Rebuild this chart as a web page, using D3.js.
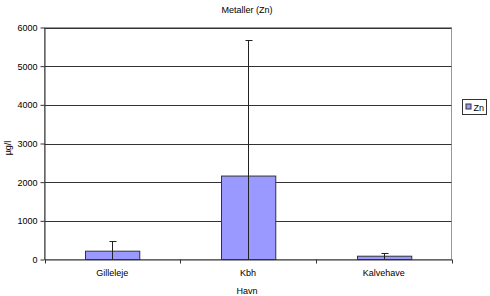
<!DOCTYPE html>
<meta charset="utf-8">
<style>
* { margin: 0; padding: 0; }
body { background: #fff; }
text { font-family: Arial, "Liberation Sans", sans-serif; fill: #000; }
.grid line { stroke: #333; stroke-width: 1; }
.axis path, .axis line { stroke: #333; }
.bar { fill: #9999ff; stroke: #333; stroke-width: 1; }
.err { stroke: #222; stroke-width: 1; fill: none; }
</style>
<body>
<script src="https://cdn.jsdelivr.net/npm/d3@7"></script>
<script>

var categories = ["Gilleleje", "Kbh", "Kalvehave"];
var zn = [215, 2158, 85];
var znErr = [275, 3516, 78];
var yTicks = [0, 1000, 2000, 3000, 4000, 5000, 6000];

var width = 490,
    height = 296,
    plotLeft = 44.5,
    plotRight = 451.5,
    plotTop = 27.5,
    plotBottom = 259.5;

var svg = d3.select("body").append("svg")
    .attr("width", width)
    .attr("height", height);

var x = d3.scaleBand()
    .domain(categories)
    .range([plotLeft, plotRight])
    .paddingInner(0.6)
    .paddingOuter(0.3);

var xb = d3.scaleBand().domain(categories).range([plotLeft, plotRight]);

var y = d3.scaleLinear()
    .domain([0, 6000])
    .range([plotBottom, plotTop]);

// plot area border
svg.append("rect")
    .attr("x", plotLeft)
    .attr("y", plotTop)
    .attr("width", plotRight - plotLeft)
    .attr("height", plotBottom - plotTop)
    .attr("fill", "#fff")
    .attr("stroke", "#999");

// gridlines
svg.append("g")
    .attr("class", "grid")
    .selectAll("line")
    .data(yTicks.slice(1))
    .enter().append("line")
    .attr("x1", plotLeft)
    .attr("x2", plotRight)
    .attr("y1", function(d) { return Math.round(y(d)) + 0.5; })
    .attr("y2", function(d) { return Math.round(y(d)) + 0.5; });

// bars
svg.selectAll(".bar")
    .data(zn)
    .enter().append("rect")
    .attr("class", "bar")
    .attr("x", function(d, i) { return Math.round(x(categories[i])) + 0.5; })
    .attr("width", x.bandwidth())
    .attr("y", function(d) { return y(d); })
    .attr("height", function(d) { return plotBottom - y(d); });

// error bars
zn.forEach(function(v, i) {
    var cx = Math.round(x(categories[i]) + x.bandwidth() / 2) + 0.5;
    var hi = v + znErr[i];
    var lo = Math.max(0, v - znErr[i]);
    svg.append("line").attr("class", "err")
        .attr("x1", cx).attr("x2", cx)
        .attr("y1", y(lo)).attr("y2", Math.round(y(hi)) + 0.5);
    svg.append("line").attr("class", "err")
        .attr("x1", cx - 3).attr("x2", cx + 4)
        .attr("y1", Math.round(y(hi)) + 0.5).attr("y2", Math.round(y(hi)) + 0.5);
});

// y axis
var yAxis = d3.axisLeft(y).tickValues(yTicks).tickSize(4).tickSizeOuter(0)
    .tickFormat(d3.format("d"));
svg.append("g")
    .attr("class", "axis")
    .attr("transform", "translate(" + plotLeft + ",0)")
    .call(yAxis)
    .call(function(g) {
        g.selectAll("text").attr("font-size", 9).attr("x", -7);
    });

// x axis
var xAxis = d3.axisBottom(xb).tickSize(0).tickSizeOuter(0);
var gx = svg.append("g")
    .attr("class", "axis")
    .attr("transform", "translate(0," + plotBottom + ")")
    .call(xAxis);
gx.selectAll("text").attr("font-size", 9).attr("dy", "1.05em").attr("y", 7);
gx.selectAll(".xtick")
    .data([plotLeft, plotLeft + xb.bandwidth(), plotLeft + 2 * xb.bandwidth(), plotRight])
    .enter().append("line")
    .attr("x1", function(d) { return Math.round(d) + 0.5; })
    .attr("x2", function(d) { return Math.round(d) + 0.5; })
    .attr("y1", 0).attr("y2", 4)
    .attr("stroke", "#333");

// titles
svg.append("text")
    .attr("x", 247).attr("y", 13)
    .attr("text-anchor", "middle")
    .attr("font-size", 9)
    .text("Metaller (Zn)");

svg.append("text")
    .attr("x", 247).attr("y", 294)
    .attr("text-anchor", "middle")
    .attr("font-size", 9)
    .text("Havn");

svg.append("text")
    .attr("transform", "translate(11,148) rotate(-90)")
    .attr("text-anchor", "middle")
    .attr("font-size", 9)
    .text("µg/l");

// legend
var lg = svg.append("g").attr("transform", "translate(462.5,99.5)");
lg.append("rect")
    .attr("width", 24).attr("height", 15)
    .attr("fill", "#fff").attr("stroke", "#333");
lg.append("rect")
    .attr("class", "bar")
    .attr("x", 3.5).attr("y", 4.5)
    .attr("width", 5).attr("height", 5);
lg.append("text")
    .attr("x", 11).attr("y", 11)
    .attr("font-size", 9)
    .text("Zn");

</script>
